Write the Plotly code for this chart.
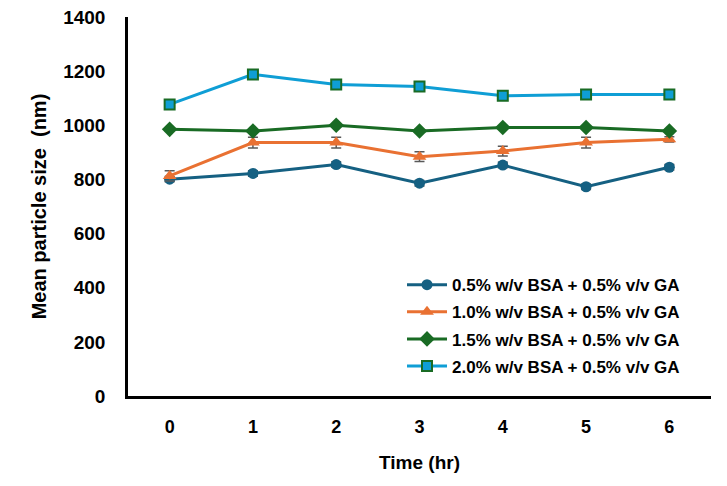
import plotly.graph_objects as go

# time points (hr)
time_hr = [0, 1, 2, 3, 4, 5, 6]

# mean particle size (nm) for each formulation
bsa_05 = [801, 822, 855, 786, 853, 773, 845]
bsa_10 = [813, 936, 936, 884, 905, 936, 948]
bsa_15 = [985, 979, 1000, 979, 992, 992, 979]
bsa_20 = [1077, 1188, 1151, 1143, 1109, 1114, 1114]

# standard deviations (nm)
err_05 = [10, 10, 10, 10, 10, 10, 10]
err_10 = [19, 20, 20, 18, 18, 20, 10]
err_15 = [5, 5, 5, 5, 5, 5, 5]
err_20 = [5, 5, 5, 5, 5, 5, 5]

names = [
    "0.5% w/v BSA + 0.5% v/v GA",
    "1.0% w/v BSA + 0.5% v/v GA",
    "1.5% w/v BSA + 0.5% v/v GA",
    "2.0% w/v BSA + 0.5% v/v GA",
]

series = [
    (bsa_05, err_05, "#156082", dict(symbol="circle", size=11, color="#156082")),
    (bsa_10, err_10, "#E97132", dict(symbol="triangle-up", size=12, color="#E97132")),
    (bsa_15, err_15, "#196B24", dict(symbol="diamond", size=12, color="#196B24")),
    (bsa_20, err_20, "#0F9ED5", dict(symbol="square", size=10, color="#0F9ED5",
                                      line=dict(color="#196B24", width=2))),
]

fig = go.Figure()

for i, (name, (vals, errs, col, marker)) in enumerate(zip(names, series)):
    fig.add_trace(go.Scatter(
        x=time_hr,
        y=vals,
        mode="lines+markers",
        name=name,
        legendgroup=str(i),
        line=dict(color=col, width=3),
        marker=marker,
        error_y=dict(type="data", array=errs, visible=True,
                     color="#595959", thickness=1.5, width=5),
    ))

font = "Liberation Sans, Arial, sans-serif"

# page body has an 8px margin, so the figure is sized to fit inside the window
fig.update_layout(
    width=711,
    height=470,
    margin=dict(l=120, r=8, t=9, b=82),
    paper_bgcolor="white",
    plot_bgcolor="white",
    showlegend=True,
    legend=dict(
        x=0.47, y=0.34, xanchor="left", yanchor="top",
        font=dict(family=font, size=17, color="black", weight="bold"),
        bgcolor="rgba(0,0,0,0)",
        tracegroupgap=2,
        itemwidth=40,
    ),
    xaxis=dict(
        range=[-0.5, 6.5],
        tickvals=time_hr,
        showgrid=False,
        zeroline=False,
        showline=True,
        linecolor="black",
        linewidth=2.5,
        ticks="",
        automargin=False,
        ticklabelstandoff=13,
        tickfont=dict(family=font, size=18, color="black", weight="bold"),
        title=dict(text="Time (hr)", standoff=20,
                   font=dict(family=font, size=19, color="black", weight="bold")),
    ),
    yaxis=dict(
        range=[0, 1400],
        dtick=200,
        showgrid=False,
        zeroline=False,
        showline=True,
        linecolor="black",
        linewidth=2.5,
        ticks="",
        automargin=False,
        ticklabelstandoff=16,
        ticklabeloverflow="allow",
        tickfont=dict(family=font, size=19, color="black", weight="bold"),
        title=dict(text="Mean particle size  (nm)", standoff=12,
                   font=dict(family=font, size=20, color="black", weight="bold")),
    ),
)

fig.write_html("out.html")
